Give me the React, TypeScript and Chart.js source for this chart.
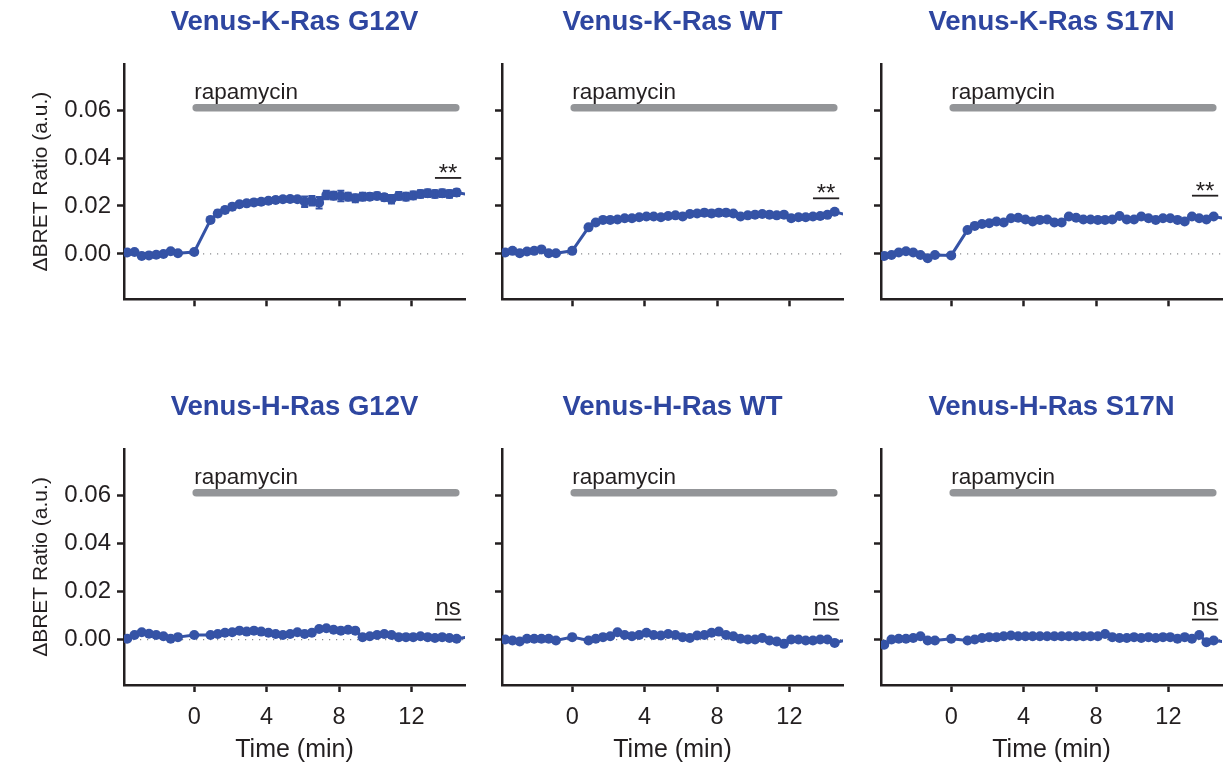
import React, { useEffect, useRef } from 'react';
import { Chart, registerables } from 'chart.js';

Chart.register(...registerables);

const FONT = "'Liberation Sans', Arial, Helvetica, sans-serif";
const BLUE = '#3553A6';
const TITLE_BLUE = '#2E46A0';
const INK = '#231F20';
const GRAY_BAR = '#939598';
const ZERO_DOTS = '#8A8C8E';

// ---- data ----
const times = [
  -3.7, -3.3, -2.9, -2.5, -2.1, -1.7, -1.3, -0.9, 0,
  0.9, 1.3, 1.7, 2.1, 2.5, 2.9, 3.3, 3.7, 4.1, 4.5, 4.9, 5.3, 5.7, 6.1, 6.5, 6.9,
  7.3, 7.7, 8.1, 8.5, 8.9, 9.3, 9.7, 10.1, 10.5, 10.9, 11.3, 11.7, 12.1, 12.5, 12.9,
  13.3, 13.7, 14.1, 14.5, 15.3,
];

const panelTitles = [
  'Venus-K-Ras G12V', 'Venus-K-Ras WT', 'Venus-K-Ras S17N',
  'Venus-H-Ras G12V', 'Venus-H-Ras WT', 'Venus-H-Ras S17N',
];

const kRasG12V = [
  0.0006, 0.0008, -0.0008, -0.0006, -0.0003, 0.0000, 0.0011, 0.0003, 0.0008,
  0.0142, 0.0169, 0.0183, 0.0197, 0.0207, 0.0211, 0.0215, 0.0218, 0.0222, 0.0225, 0.0228, 0.0229, 0.0228, 0.0218, 0.0222, 0.0214,
  0.0246, 0.0243, 0.0242, 0.0239, 0.0232, 0.0239, 0.0239, 0.0242, 0.0236, 0.0228, 0.0242, 0.0239, 0.0244, 0.0250, 0.0253,
  0.0250, 0.0253, 0.0250, 0.0256, 0.0246,
];
const kRasG12VErr = [
  0.0006, 0.0006, 0.0006, 0.0006, 0.0006, 0.0006, 0.0006, 0.0006, 0.0005,
  0.0010, 0.0012, 0.0012, 0.0012, 0.0011, 0.0011, 0.0011, 0.0011, 0.0011, 0.0011, 0.0011, 0.0011, 0.0011, 0.0022, 0.0020, 0.0024,
  0.0018, 0.0016, 0.0022, 0.0016, 0.0016, 0.0016, 0.0014, 0.0014, 0.0014, 0.0018, 0.0016, 0.0016, 0.0016, 0.0016, 0.0016,
  0.0016, 0.0016, 0.0016, 0.0014, 0,
];

const kRasWT = [
  0.0006, 0.0013, 0.0003, 0.0010, 0.0013, 0.0019, 0.0003, 0.0003, 0.0013,
  0.0111, 0.0131, 0.0142, 0.0142, 0.0144, 0.0149, 0.0149, 0.0153, 0.0156, 0.0156, 0.0153, 0.0158, 0.0161, 0.0156, 0.0167, 0.0169,
  0.0172, 0.0169, 0.0172, 0.0172, 0.0169, 0.0156, 0.0161, 0.0164, 0.0167, 0.0164, 0.0161, 0.0164, 0.0149, 0.0153, 0.0153,
  0.0156, 0.0158, 0.0163, 0.0176, 0.0160,
];
const kRasWTErr = [
  0.0005, 0.0005, 0.0005, 0.0005, 0.0005, 0.0005, 0.0005, 0.0005, 0.0005,
  0.0008, 0.0008, 0.0008, 0.0008, 0.0008, 0.0008, 0.0008, 0.0008, 0.0008, 0.0008, 0.0008, 0.0008, 0.0010, 0.0010, 0.0010, 0.0010,
  0.0012, 0.0012, 0.0012, 0.0012, 0.0010, 0.0008, 0.0008, 0.0008, 0.0008, 0.0008, 0.0008, 0.0008, 0.0010, 0.0010, 0.0010,
  0.0010, 0.0010, 0.0010, 0.0008, 0,
];

const kRasS17N = [
  -0.0008, -0.0004, 0.0006, 0.0011, 0.0006, -0.0004, -0.0018, -0.0004, -0.0006,
  0.0100, 0.0117, 0.0125, 0.0128, 0.0135, 0.0131, 0.0149, 0.0151, 0.0144, 0.0135, 0.0142, 0.0144, 0.0131, 0.0131, 0.0156, 0.0151,
  0.0144, 0.0144, 0.0142, 0.0142, 0.0144, 0.0158, 0.0144, 0.0144, 0.0156, 0.0149, 0.0142, 0.0149, 0.0149, 0.0142, 0.0135,
  0.0156, 0.0149, 0.0144, 0.0156, 0.0146,
];

const hRasG12V = [
  0.0003, 0.0019, 0.0030, 0.0024, 0.0019, 0.0014, 0.0003, 0.0010, 0.0019,
  0.0019, 0.0023, 0.0028, 0.0030, 0.0037, 0.0033, 0.0037, 0.0033, 0.0028, 0.0023, 0.0019, 0.0023, 0.0030, 0.0023, 0.0028, 0.0044,
  0.0047, 0.0041, 0.0037, 0.0041, 0.0037, 0.0010, 0.0014, 0.0019, 0.0023, 0.0019, 0.0010, 0.0010, 0.0010, 0.0014, 0.0010,
  0.0006, 0.0010, 0.0006, 0.0003, 0.0012,
];

const hRasWT = [
  0.0000, -0.0004, -0.0008, 0.0003, 0.0003, 0.0003, 0.0003, -0.0004, 0.0010,
  -0.0004, 0.0003, 0.0010, 0.0014, 0.0030, 0.0019, 0.0014, 0.0019, 0.0028, 0.0019, 0.0017, 0.0023, 0.0019, 0.0010, 0.0006, 0.0017,
  0.0019, 0.0028, 0.0033, 0.0019, 0.0014, 0.0003, 0.0000, 0.0000, 0.0006, -0.0004, -0.0008, -0.0018, 0.0000, 0.0000, -0.0004,
  -0.0004, 0.0000, 0.0000, -0.0014, 0.0002,
];

const hRasS17N = [
  -0.0022, 0.0000, 0.0003, 0.0003, 0.0006, 0.0014, -0.0004, -0.0004, 0.0003,
  -0.0004, 0.0000, 0.0006, 0.0010, 0.0010, 0.0014, 0.0017, 0.0014, 0.0014, 0.0014, 0.0014, 0.0014, 0.0014, 0.0014, 0.0014, 0.0014,
  0.0014, 0.0014, 0.0014, 0.0023, 0.0010, 0.0006, 0.0006, 0.0010, 0.0006, 0.0010, 0.0006, 0.0010, 0.0010, 0.0003, 0.0010,
  0.0003, 0.0019, -0.0011, -0.0004, -0.0011, 0.0006,
];

const panelValues = [kRasG12V, kRasWT, kRasS17N, hRasG12V, hRasWT, hRasS17N];
const panelErrors = [kRasG12VErr, kRasWTErr, null, null, null, null];

const xTicks = [0, 4, 8, 12];
const yTicks = [0, 0.02, 0.04, 0.06];
const xMin = -3.88;
const xMax = 14.96;
const yMin = -0.0189;
const yMax = 0.0792;

const rapamycinLabel = 'rapamycin';
const rapamycinStart = 0;
const rapamycinEnd = 14.45;
const rapamycinLevel = 0.061;

const sigLabels = ['**', '**', '**', 'ns', 'ns', 'ns'];
const sigLevels = [0.0317, 0.0232, 0.0243, 0.0083, 0.0083, 0.0083];
const sigStart = 13.3;
const sigEnd = 14.75;

const xTitle = 'Time (min)';
const yTitle = '\u0394BRET Ratio (a.u.)';

// ---- layout ----
const PLOT_LEFT = 124;
const PLOT_RIGHT = 465;
const CANVAS_W = PLOT_LEFT + PLOT_RIGHT; // symmetric so the title centres over the plot
const CANVAS_H = 385;
const colLeft = [0, 378, 757];
const rowTop = [0, 385];

function Panel({ index }: { index: number }) {
  const ref = useRef<HTMLCanvasElement | null>(null);
  const col = index % 3;
  const row = Math.floor(index / 3);

  useEffect(() => {
    const canvas = ref.current;
    if (!canvas) return;
    const isLeft = col === 0;
    const isBottom = row === 1;
    const vals = panelValues[index];
    const errs = panelErrors[index];

    const overlay = {
      id: 'overlay' + index,
      beforeDatasetsDraw(chart: any) {
        const { ctx, chartArea, scales } = chart;
        const y0 = scales.y.getPixelForValue(0);
        ctx.save();
        ctx.strokeStyle = ZERO_DOTS;
        ctx.lineWidth = 1.2;
        ctx.setLineDash([1.2, 5.8]);
        ctx.beginPath();
        ctx.moveTo(chartArea.left + 2, y0);
        ctx.lineTo(chartArea.right, y0);
        ctx.stroke();
        ctx.restore();
      },
      afterDatasetsDraw(chart: any) {
        const { ctx, scales } = chart;
        const xs = scales.x;
        const ys = scales.y;
        ctx.save();
        if (errs) {
          ctx.strokeStyle = BLUE;
          ctx.lineWidth = 2;
          for (let i = 0; i < times.length; i++) {
            const e = errs[i];
            if (!e || times[i] > xMax) continue;
            const px = xs.getPixelForValue(times[i]);
            const top = ys.getPixelForValue(vals[i] + e);
            const bot = ys.getPixelForValue(vals[i] - e);
            ctx.beginPath();
            ctx.moveTo(px, top);
            ctx.lineTo(px, bot);
            ctx.moveTo(px - 3.5, top);
            ctx.lineTo(px + 3.5, top);
            ctx.moveTo(px - 3.5, bot);
            ctx.lineTo(px + 3.5, bot);
            ctx.stroke();
          }
        }
        // rapamycin bar
        const rx0 = xs.getPixelForValue(rapamycinStart);
        const rx1 = xs.getPixelForValue(rapamycinEnd);
        const ry = ys.getPixelForValue(rapamycinLevel);
        ctx.strokeStyle = GRAY_BAR;
        ctx.lineWidth = 7.5;
        ctx.lineCap = 'round';
        ctx.beginPath();
        ctx.moveTo(rx0 + 2, ry);
        ctx.lineTo(rx1, ry);
        ctx.stroke();
        ctx.fillStyle = INK;
        ctx.font = `22.5px ${FONT}`;
        ctx.textAlign = 'left';
        ctx.textBaseline = 'alphabetic';
        ctx.fillText(rapamycinLabel, rx0, ry - 9);
        // significance
        const sx0 = xs.getPixelForValue(sigStart);
        const sx1 = xs.getPixelForValue(sigEnd);
        const sy = ys.getPixelForValue(sigLevels[index]);
        ctx.lineCap = 'butt';
        ctx.lineWidth = 1.8;
        ctx.strokeStyle = INK;
        ctx.beginPath();
        ctx.moveTo(sx0, sy);
        ctx.lineTo(sx1, sy);
        ctx.stroke();
        const label = sigLabels[index];
        ctx.font = `24px ${FONT}`;
        ctx.textAlign = 'center';
        const m = ctx.measureText(label);
        const desc = m.actualBoundingBoxDescent || 0;
        ctx.fillText(label, (sx0 + sx1) / 2, sy - 5 - desc);
        ctx.restore();
      },
    };

    const chart = new Chart(canvas, {
      type: 'line',
      data: {
        datasets: [
          {
            data: times.map((t, i) => ({ x: t, y: vals[i] })),
            borderColor: BLUE,
            backgroundColor: BLUE,
            borderWidth: 3,
            pointRadius: 5,
            pointHoverRadius: 5,
            pointBorderWidth: 0,
            tension: 0,
          },
        ],
      },
      options: {
        animation: false,
        responsive: false,
        devicePixelRatio: 1,
        layout: { padding: 0 },
        plugins: {
          legend: { display: false },
          tooltip: { enabled: false },
          title: {
            display: true,
            text: panelTitles[index],
            color: TITLE_BLUE,
            font: { family: FONT, size: 27.5, weight: 'bold' },
            padding: { top: 6, bottom: 25 },
          },
        },
        scales: {
          x: {
            type: 'linear',
            min: xMin,
            max: xMax,
            afterBuildTicks: (s: any) => {
              s.ticks = xTicks.map((v) => ({ value: v }));
            },
            afterFit: (s: any) => {
              s.height = isBottom ? 85 : 85.7;
            },
            border: { display: true, color: INK, width: 2.5 },
            grid: {
              display: true,
              drawOnChartArea: false,
              drawTicks: true,
              tickLength: 7,
              tickColor: INK,
              tickWidth: 2.5,
            },
            ticks: {
              autoSkip: false,
              maxRotation: 0,
              padding: 11,
              color: INK,
              font: { family: FONT, size: 23.5 },
              callback: (v: any) => (isBottom ? String(v) : ''),
            },
            title: {
              display: isBottom,
              text: xTitle,
              color: INK,
              font: { family: FONT, size: 25 },
              padding: { top: 0, bottom: 5 },
            },
          },
          y: {
            type: 'linear',
            min: yMin,
            max: yMax,
            afterBuildTicks: (s: any) => {
              s.ticks = yTicks.map((v) => ({ value: v }));
            },
            afterFit: (s: any) => {
              s.width = PLOT_LEFT;
            },
            border: { display: true, color: INK, width: 2.5 },
            grid: {
              display: true,
              drawOnChartArea: false,
              drawTicks: true,
              tickLength: 7,
              tickColor: INK,
              tickWidth: 2.5,
            },
            ticks: {
              autoSkip: false,
              padding: 6,
              color: INK,
              font: { family: FONT, size: 24 },
              callback: (v: any) => (isLeft ? Number(v).toFixed(2) : ''),
            },
            title: {
              display: isLeft,
              text: yTitle,
              color: INK,
              font: { family: FONT, size: 21 },
              padding: { top: 29, bottom: 0 },
            },
          },
          // empty spacer on the right so the panel title centres over the plot
          spacer: {
            type: 'linear',
            position: 'right',
            min: 0,
            max: 1,
            afterBuildTicks: (s: any) => {
              s.ticks = [];
            },
            afterFit: (s: any) => {
              s.width = CANVAS_W - PLOT_RIGHT;
            },
            border: { display: false },
            grid: { display: false, drawTicks: false },
            ticks: { display: false },
          },
        },
      },
      plugins: [overlay],
    } as any);
    return () => chart.destroy();
  }, [index, col, row]);

  return (
    <canvas
      ref={ref}
      width={CANVAS_W}
      height={CANVAS_H}
      style={{
        position: 'absolute',
        left: colLeft[col],
        top: rowTop[row],
        width: CANVAS_W,
        height: CANVAS_H,
      }}
    />
  );
}

export default function App() {
  return (
    <div
      style={{
        position: 'absolute',
        left: 0,
        top: 0,
        width: 1224,
        height: 770,
        overflow: 'hidden',
        background: '#ffffff',
      }}
    >
      {panelTitles.map((_, i) => (
        <Panel key={i} index={i} />
      ))}
    </div>
  );
}
